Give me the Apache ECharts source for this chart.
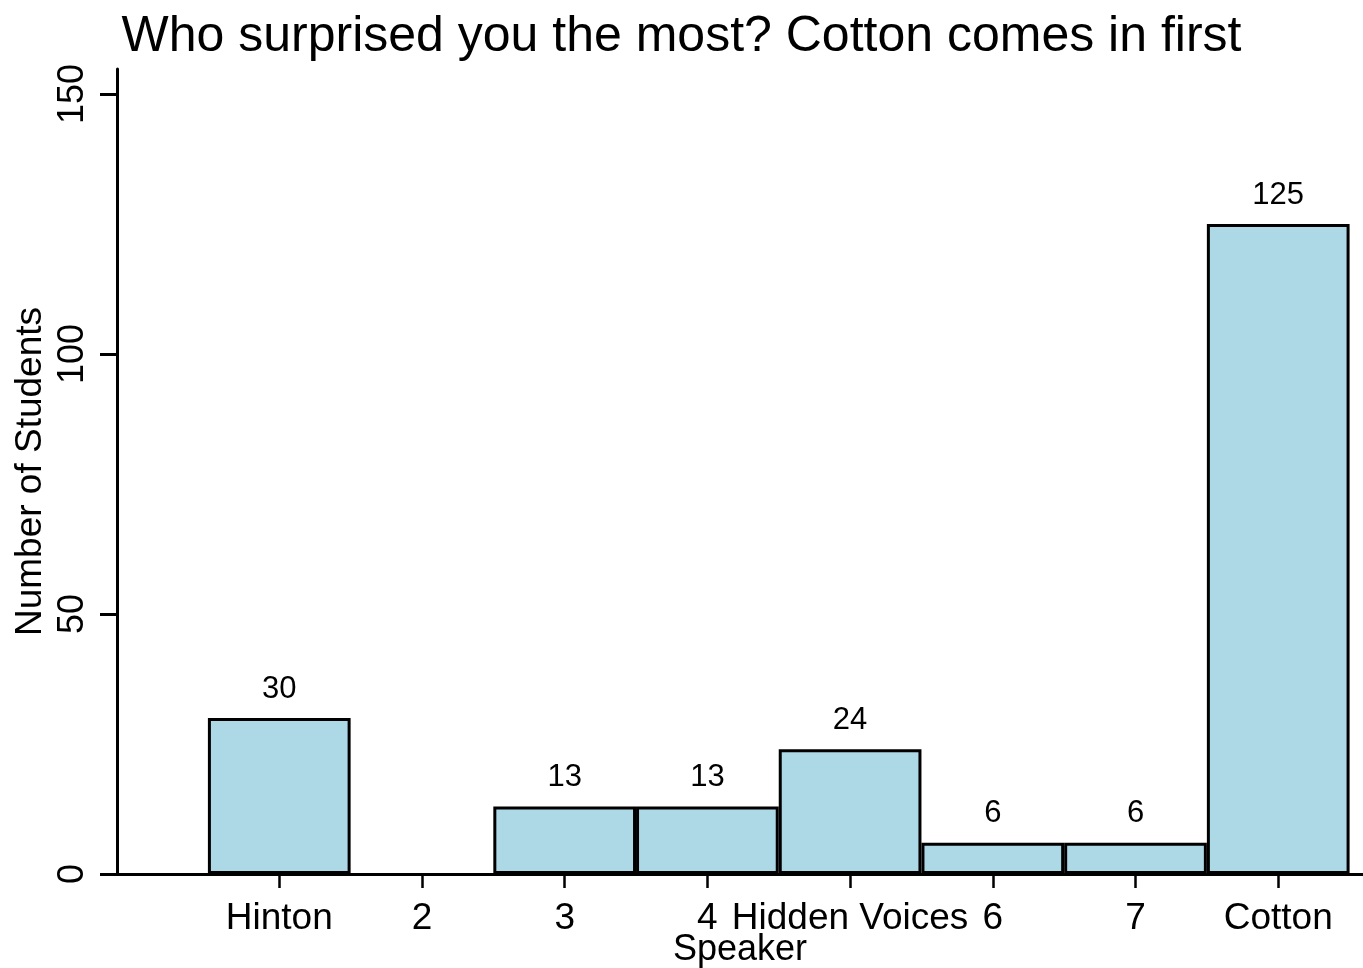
<!DOCTYPE html>
<html>
<head>
<meta charset="utf-8">
<script src="https://cdn.jsdelivr.net/npm/echarts@6/dist/echarts.min.js"></script>
<style>
  html, body { margin: 0; padding: 0; background: #fff; }
  #chart { width: 1363px; height: 968px; }
</style>
</head>
<body>
<div id="chart"></div>
<script>
const categories = ['Hinton', '2', '3', '4', 'Hidden Voices', '6', '7', 'Cotton'];
const counts = [30, 0, 13, 13, 24, 6, 6, 125];
const yTicks = [0, 50, 100, 150];
const xPositions = categories.map((c, i) => i + 1);

const FONT = "'Liberation Sans', Arial, sans-serif";
const chart = echarts.init(document.getElementById('chart'), null, { renderer: 'canvas' });

const option = {
  animation: false,
  backgroundColor: '#ffffff',
  title: {
    text: 'Who surprised you the most? Cotton comes in first',
    left: 'center',
    top: 7,
    textStyle: { fontFamily: FONT, fontSize: 50, fontWeight: 'normal', color: '#000' }
  },
  grid: { left: 117, right: 0, top: 69, bottom: 94, containLabel: false, outerBoundsMode: 'none' },
  xAxis: {
    type: 'value',
    min: -0.137,
    max: 8.594,
    splitLine: { show: false },
    axisLine: { show: true, onZero: false, lineStyle: { color: '#000', width: 3 } },
    axisTick: { show: true, customValues: xPositions, length: 14, lineStyle: { color: '#000', width: 2.5 } },
    axisLabel: {
      customValues: xPositions,
      formatter: v => categories[Math.round(v) - 1] || '',
      fontFamily: FONT, fontSize: 37, color: '#000', margin: 26
    },
    name: 'Speaker',
    nameLocation: 'middle',
    nameGap: 58,
    nameMoveOverlap: false,
    nameTextStyle: { fontFamily: FONT, fontSize: 36, color: '#000' }
  },
  yAxis: {
    type: 'value',
    min: 0,
    max: 154.8,
    splitLine: { show: false },
    axisLine: { show: true, onZero: false, lineStyle: { color: '#000', width: 3 } },
    axisTick: { show: true, customValues: yTicks, length: 17, lineStyle: { color: '#000', width: 3 } },
    axisLabel: {
      customValues: yTicks,
      rotate: 90,
      fontFamily: FONT, fontSize: 36, color: '#000', margin: 26
    },
    name: 'Number of Students',
    nameLocation: 'middle',
    nameGap: 68,
    nameMoveOverlap: false,
    nameTextStyle: { fontFamily: FONT, fontSize: 37, color: '#000' }
  },
  series: [{
    type: 'custom',
    data: counts.map((v, i) => [xPositions[i], v]),
    renderItem: function (params, api) {
      const x = api.value(0), v = api.value(1);
      if (!v) return null;
      const p0 = api.coord([x - 0.5, v]);
      const p1 = api.coord([x + 0.5, 0]);
      const lw = 3;
      return {
        type: 'group',
        children: [
          {
            type: 'rect',
            shape: { x: p0[0] + lw / 2, y: p0[1] + lw / 2, width: p1[0] - p0[0] - lw, height: p1[1] - p0[1] - lw },
            style: { fill: '#ADD8E6', stroke: '#000', lineWidth: lw }
          },
          {
            type: 'text',
            x: (p0[0] + p1[0]) / 2,
            y: p0[1] - 29,
            style: { text: String(v), fontFamily: FONT, fontSize: 31, fill: '#000', align: 'center', verticalAlign: 'middle' }
          }
        ]
      };
    }
  }]
};
chart.setOption(option);
</script>
</body>
</html>
